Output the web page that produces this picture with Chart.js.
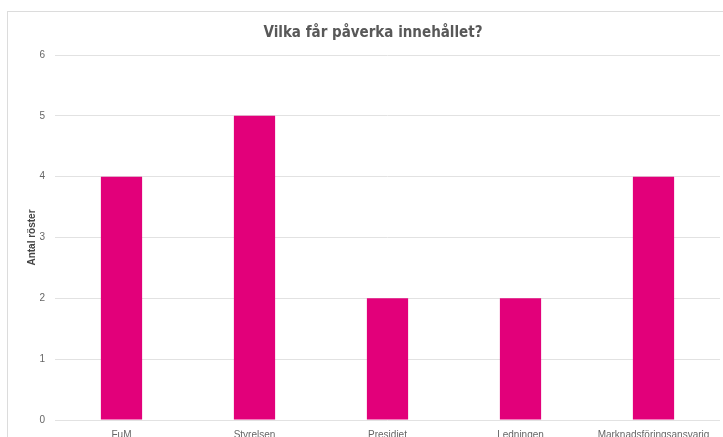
<!DOCTYPE html>
<html>
<head>
<meta charset="utf-8">
<script src="https://cdn.jsdelivr.net/npm/chart.js@4/dist/chart.umd.min.js"></script>
<style>
  html, body { margin: 0; padding: 0; background: #fff; overflow: hidden; }
  #card {
    position: absolute; left: 7px; top: 11px; width: 730px; height: 440px;
    border-left: 1px solid #dcdcdc; border-top: 1px solid #dcdcdc;
  }
  #wrap { position: absolute; left: 8px; top: 12px; width: 715px; height: 425px; }
</style>
</head>
<body>
<div id="card"></div>
<div id="wrap"><canvas id="chart"></canvas></div>
<script>
  const categories = ['FuM', 'Styrelsen', 'Presidiet', 'Ledningen', 'Marknadsföringsansvarig'];
  const votes = [4, 5, 2, 2, 4];
  const yTicks = [0, 1, 2, 3, 4, 5, 6];

  const ctx = document.getElementById('chart').getContext('2d');
  new Chart(ctx, {
    type: 'bar',
    data: {
      labels: categories,
      datasets: [{
        label: 'Antal röster',
        data: votes,
        backgroundColor: '#e2007a',
        barPercentage: 0.31,
        categoryPercentage: 1.0
      }]
    },
    options: {
      responsive: true,
      maintainAspectRatio: false,
      animation: false,
      layout: { padding: { top: 0, right: 3, bottom: 0, left: 18 } },
      plugins: {
        legend: { display: false },
        tooltip: { enabled: false },
        title: {
          display: true,
          text: 'Vilka får påverka innehållet?',
          color: '#585858',
          font: { family: "'DejaVu Sans Condensed', 'DejaVu Sans', sans-serif", size: 15, weight: 'bold' },
          padding: { top: 12, bottom: 13 }
        }
      },
      scales: {
        x: {
          grid: { display: false },
          border: { display: false },
          ticks: {
            color: '#666',
            font: { family: 'Liberation Sans', size: 10 },
            maxRotation: 0,
            autoSkip: false,
            padding: 1
          },
          afterFit: (s) => { s.height = 17; }
        },
        y: {
          min: 0,
          max: 6,
          afterBuildTicks: (s) => { s.ticks = yTicks.map(v => ({ value: v })); },
          grid: { color: '#e2e2e2', drawTicks: false },
          border: { display: false },
          ticks: {
            color: '#666',
            font: { family: 'Liberation Sans', size: 10 },
            padding: 10
          },
          title: {
            display: true,
            text: 'Antal röster',
            color: '#444',
            font: { family: 'Liberation Sans', size: 10, weight: 'bold' },
            padding: { top: 0, bottom: 2 }
          },
          afterFit: (s) => { s.width = 29; }
        }
      }
    }
  });
</script>
</body>
</html>
